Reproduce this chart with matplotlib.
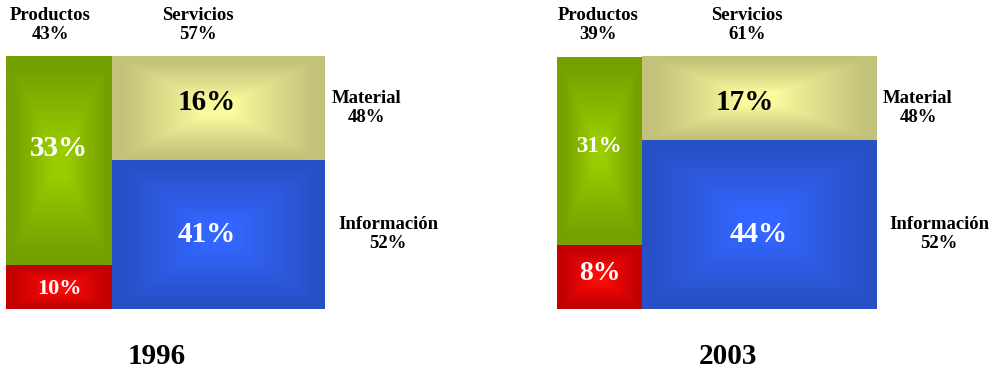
import numpy as np
import matplotlib
matplotlib.use("Agg")
import matplotlib.pyplot as plt
from matplotlib.colors import to_rgb

# datos
years = ["1996", "2003"]
productos = [43, 39]
servicios = [57, 61]
material = [48, 48]
informacion = [52, 52]
prod_verde = [33, 31]      # productos de información
prod_rojo = [10, 8]        # productos materiales
serv_material = [16, 17]
serv_info = [41, 44]

# colores (centro, borde)
c_verde = ("#9ACD00", "#74A000")
c_rojo = ("#FF0A0A", "#C20000")
c_amarillo = ("#FAFA9E", "#C4C27A")
c_azul = ("#3366FF", "#2850C6")

# disposición de cada panel (pixeles)
panel_x0 = [6, 557]
box_w = 319
box_top, box_bot = 56, 309.5
prod_frac = [0.333, 0.266]      # ancho de la columna de productos
rojo_frac = [0.172, 0.252]      # alto del rojo
mat_frac = [0.413, 0.335]       # alto de material


def gradiente(ax, x0, x1, y0, y1, colores):
    w = max(int(round(x1 - x0)), 2)
    h = max(int(round(y1 - y0)), 2)
    xs = np.linspace(-1, 1, w)
    ys = np.linspace(-1, 1, h)
    X, Y = np.meshgrid(xs, ys)
    t = np.maximum(np.abs(X), np.abs(Y))
    s = np.clip((t - 0.15) / 0.75, 0, 1) ** 0.9
    c0 = np.array(to_rgb(colores[0]))
    c1 = np.array(to_rgb(colores[1]))
    img = c0[None, None, :] * (1 - s[..., None]) + c1[None, None, :] * s[..., None]
    ax.imshow(img, extent=(x0, x1, y1, y0), aspect="auto", interpolation="bilinear")


fig = plt.figure(figsize=(9.93, 3.73), dpi=100)
ax = fig.add_axes([0, 0, 1, 1])
ax.set_xlim(0, 993)
ax.set_ylim(373, 0)
ax.axis("off")

plt.rcParams["font.family"] = ["Liberation Serif", "DejaVu Serif"]
lab = dict(fontsize=13.5, fontweight="bold", ha="center", va="center", linespacing=1.2)
big = dict(fontweight="bold", ha="center", va="center")
big_sizes = [[21, 16, 21, 21], [16.5, 20, 21, 21]]

for i in range(2):
    x0 = panel_x0[i]
    H = box_bot - box_top
    xp = x0 + box_w * prod_frac[i]
    xr = x0 + box_w
    y_rojo = box_bot - H * rojo_frac[i]
    y_mat = box_top + H * mat_frac[i]

    gradiente(ax, x0, xp, box_top + 0.7, y_rojo, c_verde)
    gradiente(ax, x0, xp, y_rojo, box_bot, c_rojo)
    gradiente(ax, xp, xr, box_top, y_mat, c_amarillo)
    gradiente(ax, xp, xr, y_mat, box_bot, c_azul)

    cx_p = (x0 + xp) / 2
    cx_s = (xp + xr) / 2
    ax.text(cx_p - 9 if i == 0 else cx_p - 1, 25, "Productos\n%d%%" % productos[i], **lab)
    ax.text(cx_s - 21 if i == 0 else cx_s - 12, 25, "Servicios\n%d%%" % servicios[i], **lab)
    ax.text(xr + 42, 108, "Material\n%d%%" % material[i], **lab)
    ax.text(xr + 63, 234, "Información\n%d%%" % informacion[i], **lab)

    sz = big_sizes[i]
    ax.text(cx_p, 148 if i == 0 else 146, "%d%%" % prod_verde[i], color="white", fontsize=sz[0], **big)
    ax.text(cx_p, (y_rojo + box_bot) / 2 + (1 if i == 0 else -4), "%d%%" % prod_rojo[i],
            color="white", fontsize=sz[1], **big)
    ax.text(cx_s - 12 if i == 0 else cx_s - 14, 102, "%d%%" % serv_material[i],
            color="black", fontsize=sz[2], **big)
    ax.text(cx_s - 12 if i == 0 else cx_s, 235, "%d%%" % serv_info[i], color="white", fontsize=sz[3], **big)

    ax.text(157 if i == 0 else 728, 357, years[i], fontsize=21, **big)

fig.savefig("out.png", dpi=100)
